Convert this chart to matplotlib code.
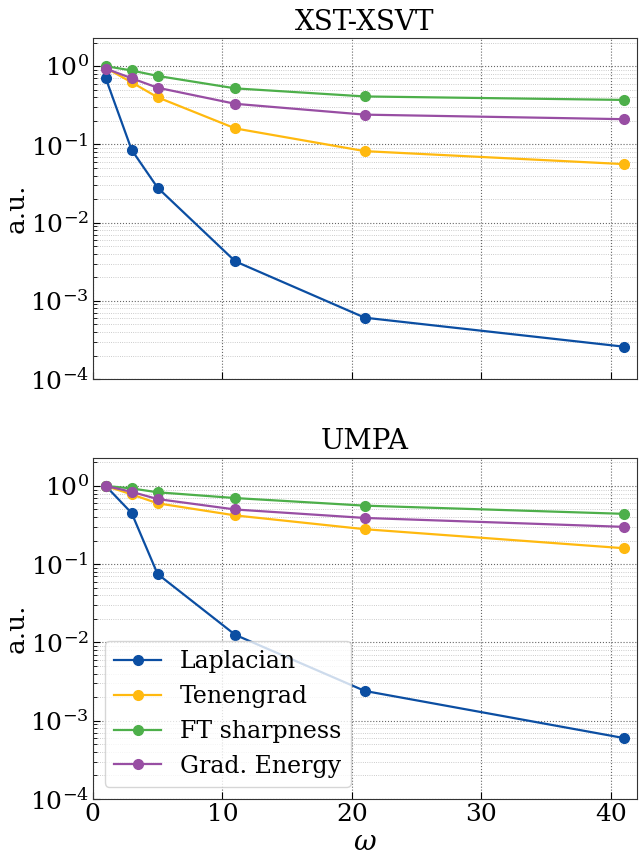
import matplotlib
matplotlib.use("Agg")
import matplotlib.pyplot as plt
import numpy as np

plt.rcParams['font.family'] = ['DejaVu Serif']
plt.rcParams['mathtext.fontset'] = 'dejavuserif'

omega = [1, 3, 5, 11, 21, 41]
labels = ['Laplacian', 'Tenengrad', 'FT sharpness', 'Grad. Energy']
colors = ['#0b4ea2', '#ffb90f', '#4daf4a', '#984ea3']

# XST-XSVT panel
xst_laplacian = [0.70, 0.085, 0.028, 0.0032, 0.00061, 0.00026]
xst_tenengrad = [0.95, 0.62, 0.40, 0.16, 0.082, 0.056]
xst_ft = [1.0, 0.88, 0.75, 0.52, 0.41, 0.37]
xst_grad = [0.93, 0.70, 0.53, 0.33, 0.24, 0.21]

# UMPA panel
umpa_laplacian = [1.0, 0.45, 0.075, 0.0125, 0.0024, 0.0006]
umpa_tenengrad = [1.0, 0.78, 0.60, 0.42, 0.28, 0.16]
umpa_ft = [1.0, 0.93, 0.83, 0.70, 0.56, 0.44]
umpa_grad = [1.0, 0.84, 0.68, 0.50, 0.39, 0.30]

panels = [
    ('XST-XSVT', [xst_laplacian, xst_tenengrad, xst_ft, xst_grad]),
    ('UMPA', [umpa_laplacian, umpa_tenengrad, umpa_ft, umpa_grad]),
]

fig, axes = plt.subplots(2, 1, figsize=(6.4, 8.6), dpi=100, sharex=True)
fig.subplots_adjust(left=0.145, right=0.995, top=0.956, bottom=0.071, hspace=0.23)

for ax, (title, series) in zip(axes, panels):
    for vals, lab, col in zip(series, labels, colors):
        ax.plot(omega, vals, '-o', color=col, label=lab, lw=1.6, ms=7)
    ax.set_yscale('log')
    ax.set_ylim(1e-4, 2.3)
    ax.set_xlim(0, 42)
    ax.set_title(title, fontsize=20)
    ax.set_ylabel('a.u.', fontsize=19, labelpad=1)
    ax.grid(True, which='major', ls=':', color='#666666', lw=0.8)
    ax.grid(True, which='minor', axis='y', ls=':', color='#bbbbbb', lw=0.6)
    ax.tick_params(which='both', direction='in', labelsize=18, pad=3)
    ax.tick_params(which='major', length=5)
    ax.tick_params(which='minor', length=3)
    ax.set_xticks([0, 10, 20, 30, 40])
    for s in ax.spines.values():
        s.set_color('#333333')

axes[0].tick_params(labelbottom=False)
axes[1].set_xlabel(r'$\omega$', fontsize=20, labelpad=2)
axes[1].legend(loc='lower left', fontsize=17, framealpha=0.8)

fig.savefig('out.png', dpi=100)
